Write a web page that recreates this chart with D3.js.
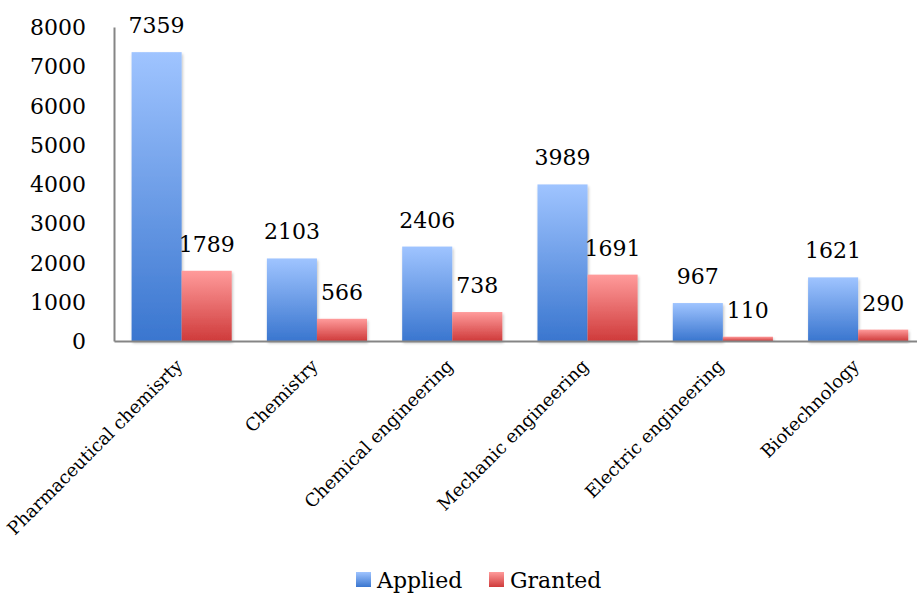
<!DOCTYPE html>
<html><head><meta charset="utf-8">
<script src="https://cdn.jsdelivr.net/npm/d3@7"></script>
<style>body{margin:0;background:#fff;} svg{display:block;}</style>
</head><body>
<svg id="c" width="917" height="593"></svg>
<script>
const categories = ["Pharmaceutical chemisrty","Chemistry","Chemical engineering","Mechanic engineering","Electric engineering","Biotechnology"];
const applied = [7359,2103,2406,3989,967,1621];
const granted = [1789,566,738,1691,110,290];
const seriesNames = ["Applied","Granted"];
const yTicks = [0,1000,2000,3000,4000,5000,6000,7000,8000];

(function(){
const svg = d3.select("#c");
const font = "DejaVu Serif";
const mLeft = 114, mTop = 27, mBottom = 341, step = 135.3;
const x = d3.scaleBand().domain(categories).range([mLeft, mLeft + step*categories.length]).paddingInner(0.26).paddingOuter(0.13);
const x1 = d3.scaleBand().domain(seriesNames).range([0, x.bandwidth()]);
const y = d3.scaleLinear().domain([0,8000]).range([mBottom, mTop]);

const defs = svg.append("defs");
const grads = [["gA","#9fc4ff","#3a76cf"],["gG","#ff9b9b","#cf3b3b"]];
grads.forEach(([id,c1,c2])=>{
  const g = defs.append("linearGradient").attr("id",id).attr("x1",0).attr("y1",0).attr("x2",0).attr("y2",1);
  g.append("stop").attr("offset","0%").attr("stop-color",c1);
  g.append("stop").attr("offset","100%").attr("stop-color",c2);
});
const f = defs.append("filter").attr("id","sh").attr("x","-10%").attr("y","-10%").attr("width","130%").attr("height","130%");
f.append("feGaussianBlur").attr("in","SourceAlpha").attr("stdDeviation",1.5);
f.append("feOffset").attr("dx",1).attr("dy",1.5).attr("result","b");
f.append("feComponentTransfer").append("feFuncA").attr("type","linear").attr("slope",0.25);
const m = f.append("feMerge"); m.append("feMergeNode"); m.append("feMergeNode").attr("in","SourceGraphic");

const data = categories.map((c,i)=>({c, vals:[{s:"Applied",v:applied[i],g:"gA"},{s:"Granted",v:granted[i],g:"gG"}]}));

const groups = svg.selectAll("g.grp").data(data).join("g").attr("class","grp")
  .attr("transform", d=>`translate(${x(d.c)},0)`);
groups.selectAll("rect").data(d=>d.vals).join("rect")
  .attr("x", d=>x1(d.s)).attr("width", x1.bandwidth())
  .attr("y", d=>y(d.v)).attr("height", d=>y(0)-y(d.v))
  .attr("fill", d=>`url(#${d.g})`).attr("filter","url(#sh)");
groups.selectAll("text.val").data(d=>d.vals).join("text").attr("class","val")
  .attr("x", d=>x1(d.s)+x1.bandwidth()/2).attr("y", d=>y(d.v)-19)
  .attr("text-anchor","middle").attr("font-family",font).attr("font-size",22).attr("fill","#000")
  .text(d=>d.v);

const yAxis = d3.axisLeft(y).tickValues(yTicks).tickFormat(d3.format("d")).tickSize(0).tickPadding(28);
const gy = svg.append("g").attr("transform",`translate(${mLeft},0)`).call(yAxis);
gy.select(".domain").attr("stroke","#858585").attr("stroke-width",2);
gy.selectAll("text").attr("font-family",font).attr("font-size",22).attr("fill","#000").attr("dy","0.35em");

const xAxis = d3.axisBottom(x).tickSize(0).tickSizeOuter(0).tickPadding(0);
const gx = svg.append("g").attr("transform",`translate(0,${mBottom})`).call(xAxis);
gx.select(".domain").attr("stroke","#858585").attr("stroke-width",2);
gx.selectAll(".tick text").attr("font-family",font).attr("font-size",18).attr("fill","#000")
  .attr("text-anchor","end").attr("dy",0).attr("y",0)
  .attr("transform","translate(2,26) rotate(-45)");

const leg = svg.append("g");
const legItems = [{s:"Applied",g:"gA",x:356},{s:"Granted",g:"gG",x:489}];
legItems.forEach(d=>{
  leg.append("rect").attr("x",d.x).attr("y",572).attr("width",15).attr("height",15).attr("fill",`url(#${d.g})`);
  leg.append("text").attr("x",d.x+21).attr("y",588).attr("font-family",font).attr("font-size",22).attr("fill","#000").text(d.s);
});
})();
</script>
</body></html>
